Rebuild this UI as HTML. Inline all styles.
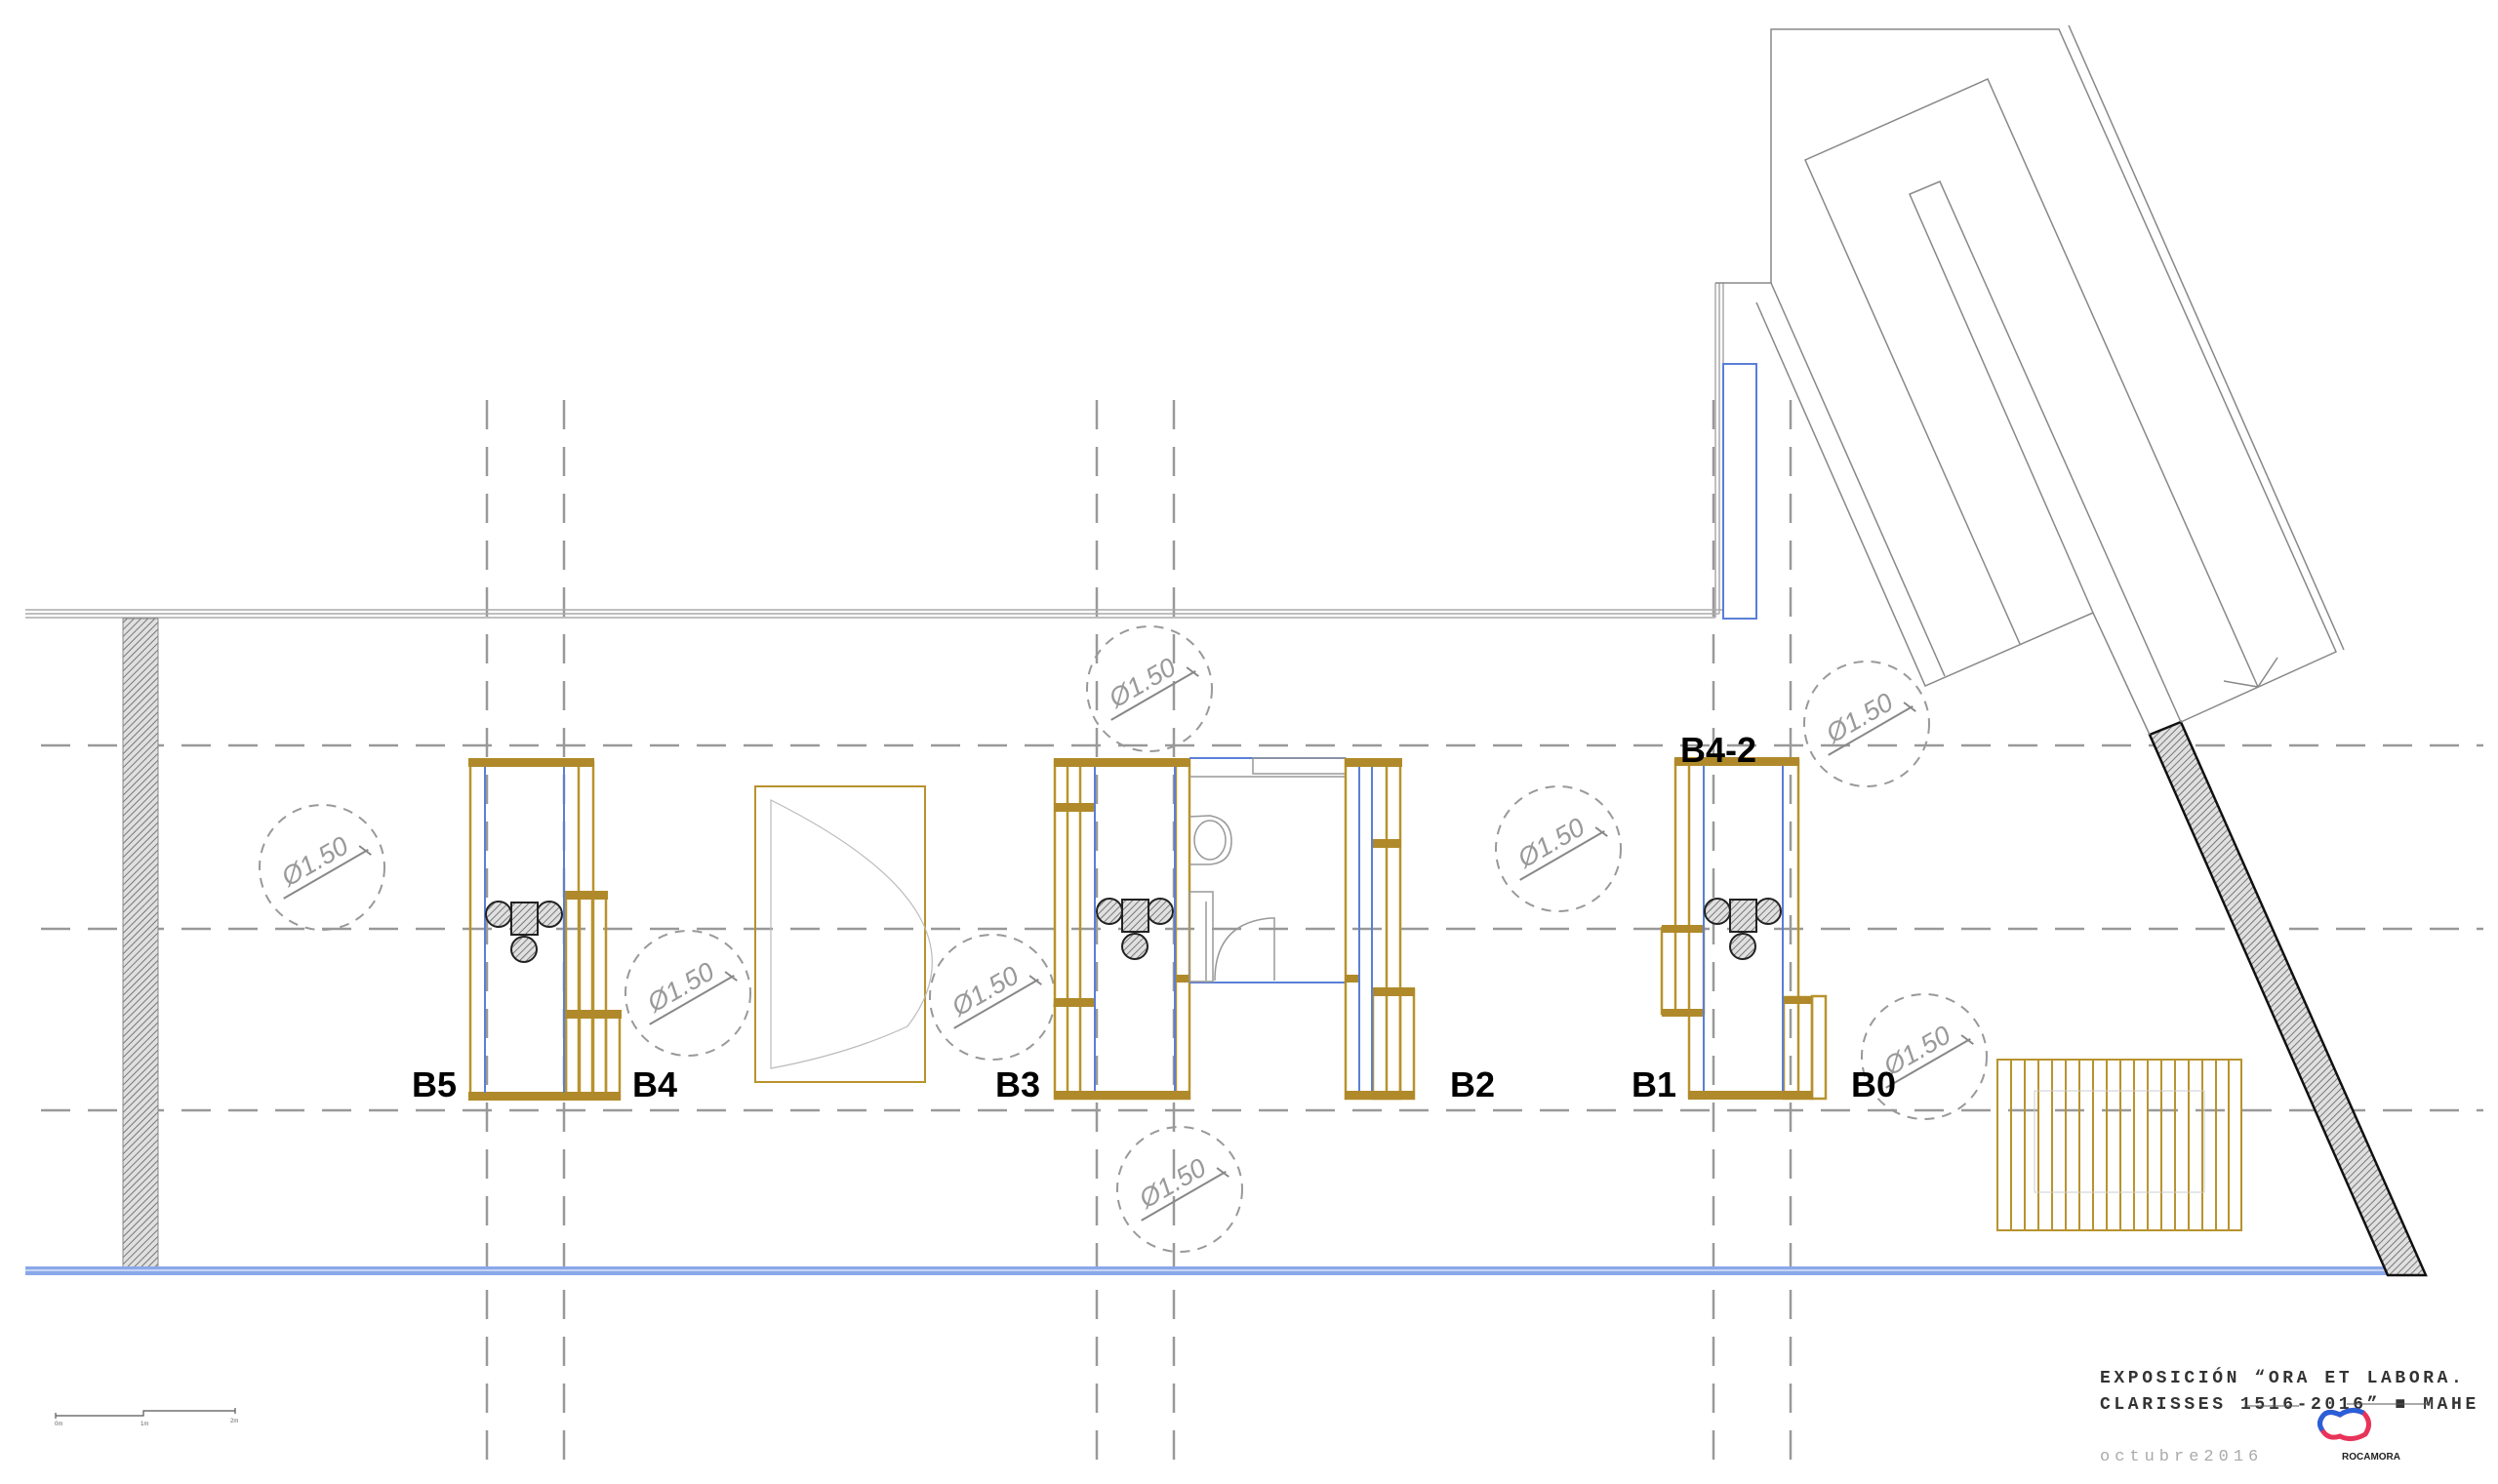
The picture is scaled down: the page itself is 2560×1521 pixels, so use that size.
<!DOCTYPE html>
<html><head><meta charset="utf-8"><style>
html,body{margin:0;padding:0;background:#fff;}
svg{display:block;}
.lbl{font-family:"Liberation Sans",sans-serif;font-weight:bold;font-size:36px;fill:#000;}
.dim{font-family:"Liberation Sans",sans-serif;font-size:27px;fill:#999;font-style:italic;}
.mono{font-family:"Liberation Mono",monospace;font-size:18px;letter-spacing:3.6px;fill:#333;font-weight:bold;}
</style></head><body>
<svg width="2560" height="1521" viewBox="0 0 2560 1521" xmlns="http://www.w3.org/2000/svg">
<defs>
<pattern id="h" width="5" height="5" patternUnits="userSpaceOnUse" patternTransform="rotate(45)">
<rect width="5" height="5" fill="#e0e0e0"/><line x1="0" y1="0" x2="0" y2="5" stroke="#777" stroke-width="2"/></pattern>
<g id="fix">
<circle cx="-26" cy="0" r="13" fill="url(#h)" stroke="#222" stroke-width="2"/>
<circle cx="26" cy="0" r="13" fill="url(#h)" stroke="#222" stroke-width="2"/>
<rect x="-13" y="-12" width="27" height="33" fill="url(#h)" stroke="#222" stroke-width="2"/>
<circle cx="0" cy="36" r="13" fill="url(#h)" stroke="#222" stroke-width="2"/>
</g>
<g id="dc">
<circle r="64" fill="none" stroke="#999" stroke-width="2" stroke-dasharray="10 8"/>
<g transform="rotate(-30)">
<line x1="-50" y1="8" x2="50" y2="8" stroke="#888" stroke-width="2"/>
<line x1="44" y1="0" x2="50" y2="14" stroke="#888" stroke-width="2"/>
<text x="-40" y="0" class="dim">Ø1.50</text>
</g>
</g>
</defs>

<!-- dashed grid -->
<g stroke="#999" stroke-width="2.5" stroke-dasharray="30 18" fill="none">
<line x1="42" y1="764" x2="2545" y2="764"/>
<line x1="42" y1="952" x2="2545" y2="952"/>
<line x1="42" y1="1138" x2="2545" y2="1138"/>
<line x1="499" y1="410" x2="499" y2="1502"/>
<line x1="578" y1="410" x2="578" y2="1502"/>
<line x1="1124" y1="410" x2="1124" y2="1502"/>
<line x1="1203" y1="410" x2="1203" y2="1502"/>
<line x1="1756" y1="410" x2="1756" y2="1502"/>
<line x1="1835" y1="410" x2="1835" y2="1502"/>
</g>

<!-- top wall -->
<g stroke="#aaa" stroke-width="1.5" fill="none">
<line x1="26" y1="625" x2="1766" y2="625"/>
<line x1="26" y1="629" x2="1762" y2="629"/>
<line x1="26" y1="633" x2="1758" y2="633"/>
<line x1="1766" y1="290" x2="1766" y2="625"/>
<line x1="1762" y1="290" x2="1762" y2="629"/>
<line x1="1758" y1="290" x2="1758" y2="633"/>
</g>
<rect x="1766" y="373" width="34" height="261" fill="none" stroke="#5a7fd6" stroke-width="2"/>

<!-- left column -->
<rect x="126" y="634" width="36" height="672" fill="url(#h)" stroke="#888" stroke-width="1"/>

<!-- bottom blue wall -->
<rect x="26" y="1298" width="2425" height="9" fill="#8aa8ea"/>
<line x1="26" y1="1302" x2="2451" y2="1302" stroke="#fff" stroke-width="1"/>

<!-- diagonal wall -->
<polygon points="2203,753 2235,740 2486,1307 2447,1307" fill="url(#h)" stroke="#111" stroke-width="2.5"/>

<!-- top right building -->
<g stroke="#888" stroke-width="1.5" fill="none">
<polyline points="1758,290 1815,290 1815,30 2110,30 2394,668 2235,740"/>
<line x1="2120" y1="26" x2="2402" y2="666"/>
<line x1="1815" y1="290" x2="1993" y2="693"/>
<polyline points="1800,310 1973,703 2145,628 2203,753"/>
<polyline points="2070,660 1850,164 2037,81 2314,704"/>
<polyline points="2145,628 1957,199 1988,186 2235,740"/>
<polyline points="2279,698 2314,704 2334,674"/>
</g>

<!-- circles -->
<use href="#dc" x="330" y="889"/>
<use href="#dc" x="705" y="1018"/>
<use href="#dc" x="1178" y="706"/>
<use href="#dc" x="1017" y="1022"/>
<use href="#dc" x="1209" y="1219"/>
<use href="#dc" x="1597" y="870"/>
<use href="#dc" x="1913" y="742"/>
<use href="#dc" x="1972" y="1083"/>

<!-- B5/B4 -->
<g stroke="#b8932e" stroke-width="2.5" fill="none">
<rect x="482" y="781" width="126" height="345"/>
<line x1="593" y1="781" x2="593" y2="1126"/>
<rect x="580" y="918" width="41" height="208"/>
<rect x="580" y="1040" width="55" height="86"/>
<line x1="594" y1="918" x2="594" y2="1126"/>
<line x1="607" y1="918" x2="607" y2="1126"/>
<line x1="621" y1="1040" x2="621" y2="1126"/>
</g>
<g fill="#b08a2a">
<rect x="480" y="777" width="129" height="9"/>
<rect x="480" y="1119" width="156" height="9"/>
<rect x="579" y="913" width="44" height="9"/>
<rect x="579" y="1035" width="58" height="9"/>
</g>
<g stroke="#5a7fd6" stroke-width="2"><line x1="497" y1="786" x2="497" y2="1120"/><line x1="578" y1="786" x2="578" y2="1120"/></g>
<use href="#fix" x="537" y="937"/>

<!-- door -->
<rect x="774" y="806" width="174" height="303" fill="none" stroke="#b8932e" stroke-width="2"/>
<path d="M790,820 Q1020,935 930,1052 Q870,1080 790,1095 Z" fill="none" stroke="#bbb" stroke-width="1.2"/>

<!-- B3 -->
<g stroke="#b8932e" stroke-width="2.5" fill="none">
<rect x="1081" y="779" width="138" height="347"/>
<line x1="1094" y1="779" x2="1094" y2="1126"/>
<line x1="1107" y1="779" x2="1107" y2="1126"/>
<line x1="1205" y1="779" x2="1205" y2="1126"/>
</g>
<g fill="#b08a2a">
<rect x="1080" y="777" width="140" height="9"/>
<rect x="1080" y="1118" width="140" height="9"/>
<rect x="1080" y="823" width="42" height="9"/>
<rect x="1080" y="1023" width="42" height="9"/>
<rect x="1205" y="999" width="15" height="8"/>
</g>
<g stroke="#5a7fd6" stroke-width="2"><line x1="1122" y1="786" x2="1122" y2="1118"/><line x1="1204" y1="786" x2="1204" y2="1118"/></g>
<use href="#fix" x="1163" y="934"/>

<!-- bathroom -->
<g fill="none" stroke="#999" stroke-width="1.5">
<line x1="1219" y1="777" x2="1379" y2="777" stroke="#5a7fd6" stroke-width="2"/>
<line x1="1219" y1="1007" x2="1379" y2="1007" stroke="#5a7fd6" stroke-width="2"/>
<line x1="1219" y1="796" x2="1379" y2="796"/>
<rect x="1284" y="777" width="95" height="16"/>
<path d="M1219,837 L1240,836 Q1262,840 1262,862 Q1262,884 1240,886 L1219,886"/>
<ellipse cx="1240" cy="861" rx="16" ry="20"/>
<rect x="1219" y="914" width="24" height="92"/>
<line x1="1236" y1="924" x2="1236" y2="1005"/>
<path d="M1245,1005 Q1245,946 1302,941 L1306,941 L1306,1005"/>
</g>

<!-- B2 -->
<g stroke="#b8932e" stroke-width="2.5" fill="none">
<rect x="1379" y="779" width="56" height="347"/>
<line x1="1421" y1="779" x2="1421" y2="1126"/>
<rect x="1407" y="1014" width="42" height="112"/>
<line x1="1435" y1="1014" x2="1435" y2="1126"/>
</g>
<g fill="#b08a2a">
<rect x="1378" y="777" width="59" height="9"/>
<rect x="1378" y="1118" width="72" height="9"/>
<rect x="1407" y="860" width="29" height="9"/>
<rect x="1407" y="1012" width="43" height="9"/>
<rect x="1378" y="999" width="15" height="8"/>
</g>
<g stroke="#5a7fd6" stroke-width="2"><line x1="1393" y1="786" x2="1393" y2="1118"/><line x1="1406" y1="786" x2="1406" y2="1118"/></g>

<!-- B1 -->
<g stroke="#b8932e" stroke-width="2.5" fill="none">
<polyline points="1717,951 1717,779 1843,779 1843,1126"/>
<line x1="1731" y1="779" x2="1731" y2="1126"/>
<rect x="1703" y="951" width="43" height="88"/>
<line x1="1717" y1="951" x2="1717" y2="1039"/>
<rect x="1828" y="1022" width="29" height="104"/>
<rect x="1857" y="1021" width="14" height="105"/>
</g>
<g fill="#b08a2a">
<rect x="1716" y="776" width="128" height="9"/>
<rect x="1730" y="1118" width="128" height="9"/>
<rect x="1703" y="948" width="43" height="8"/>
<rect x="1703" y="1034" width="43" height="8"/>
<rect x="1828" y="1021" width="29" height="8"/>
</g>
<g stroke="#5a7fd6" stroke-width="2"><line x1="1746" y1="785" x2="1746" y2="1118"/><line x1="1827" y1="785" x2="1827" y2="1118"/></g>
<use href="#fix" x="1786" y="934"/>

<!-- stair -->
<g stroke="#b8932e" stroke-width="2" fill="none">
<rect x="2047" y="1086" width="250" height="175"/>
<path d="M2061,1086V1261M2075,1086V1261M2089,1086V1261M2103,1086V1261M2117,1086V1261M2131,1086V1261M2145,1086V1261M2159,1086V1261M2173,1086V1261M2187,1086V1261M2201,1086V1261M2215,1086V1261M2229,1086V1261M2243,1086V1261M2257,1086V1261M2271,1086V1261M2284,1086V1261"/>
</g>
<rect x="2085" y="1118" width="174" height="104" fill="none" stroke="#ccc" stroke-width="1"/>

<!-- labels -->
<text x="422" y="1124" class="lbl">B5</text>
<text x="648" y="1124" class="lbl">B4</text>
<text x="1020" y="1124" class="lbl">B3</text>
<text x="1486" y="1124" class="lbl">B2</text>
<text x="1672" y="1124" class="lbl">B1</text>
<text x="1897" y="1124" class="lbl">B0</text>
<text x="1722" y="781" class="lbl">B4-2</text>

<!-- scale bar -->
<g stroke="#555" stroke-width="1.2" fill="none">
<polyline points="57,1451 147,1451 147,1446 241,1446"/>
<line x1="57" y1="1448" x2="57" y2="1454"/><line x1="241" y1="1443" x2="241" y2="1449"/>
</g>
<g font-family="Liberation Sans,sans-serif" font-size="6" fill="#666"><text x="56" y="1461">0m</text><text x="144" y="1461">1m</text><text x="236" y="1458">2m</text></g>

<!-- title -->
<text x="2152" y="1417" class="mono">EXPOSICIÓN “ORA ET LABORA.</text>
<text x="2152" y="1444" class="mono">CLARISSES 1516-2016” ■ MAHE</text>
<line x1="2300" y1="1441" x2="2356" y2="1441" stroke="#555" stroke-width="1"/>
<line x1="2405" y1="1439" x2="2490" y2="1439" stroke="#555" stroke-width="1"/>
<text x="2152" y="1497" class="mono" style="fill:#aaa;font-size:17px;letter-spacing:5px;font-weight:normal">octubre2016</text>
<path d="M2380,1452 Q2385,1444 2398,1450 Q2410,1442 2422,1448 Q2432,1458 2424,1470 Q2410,1478 2398,1472 Q2386,1476 2380,1466 Q2375,1459 2380,1452 Z" fill="none" stroke="#e8345a" stroke-width="5"/>
<path d="M2380,1466 Q2375,1459 2380,1452 Q2385,1444 2398,1450 Q2410,1442 2422,1448" fill="none" stroke="#2a5fd8" stroke-width="5"/>
<text x="2400" y="1496" font-family="Liberation Sans,sans-serif" font-weight="bold" font-size="10" fill="#222">ROCAMORA</text>
</svg>
</body></html>
